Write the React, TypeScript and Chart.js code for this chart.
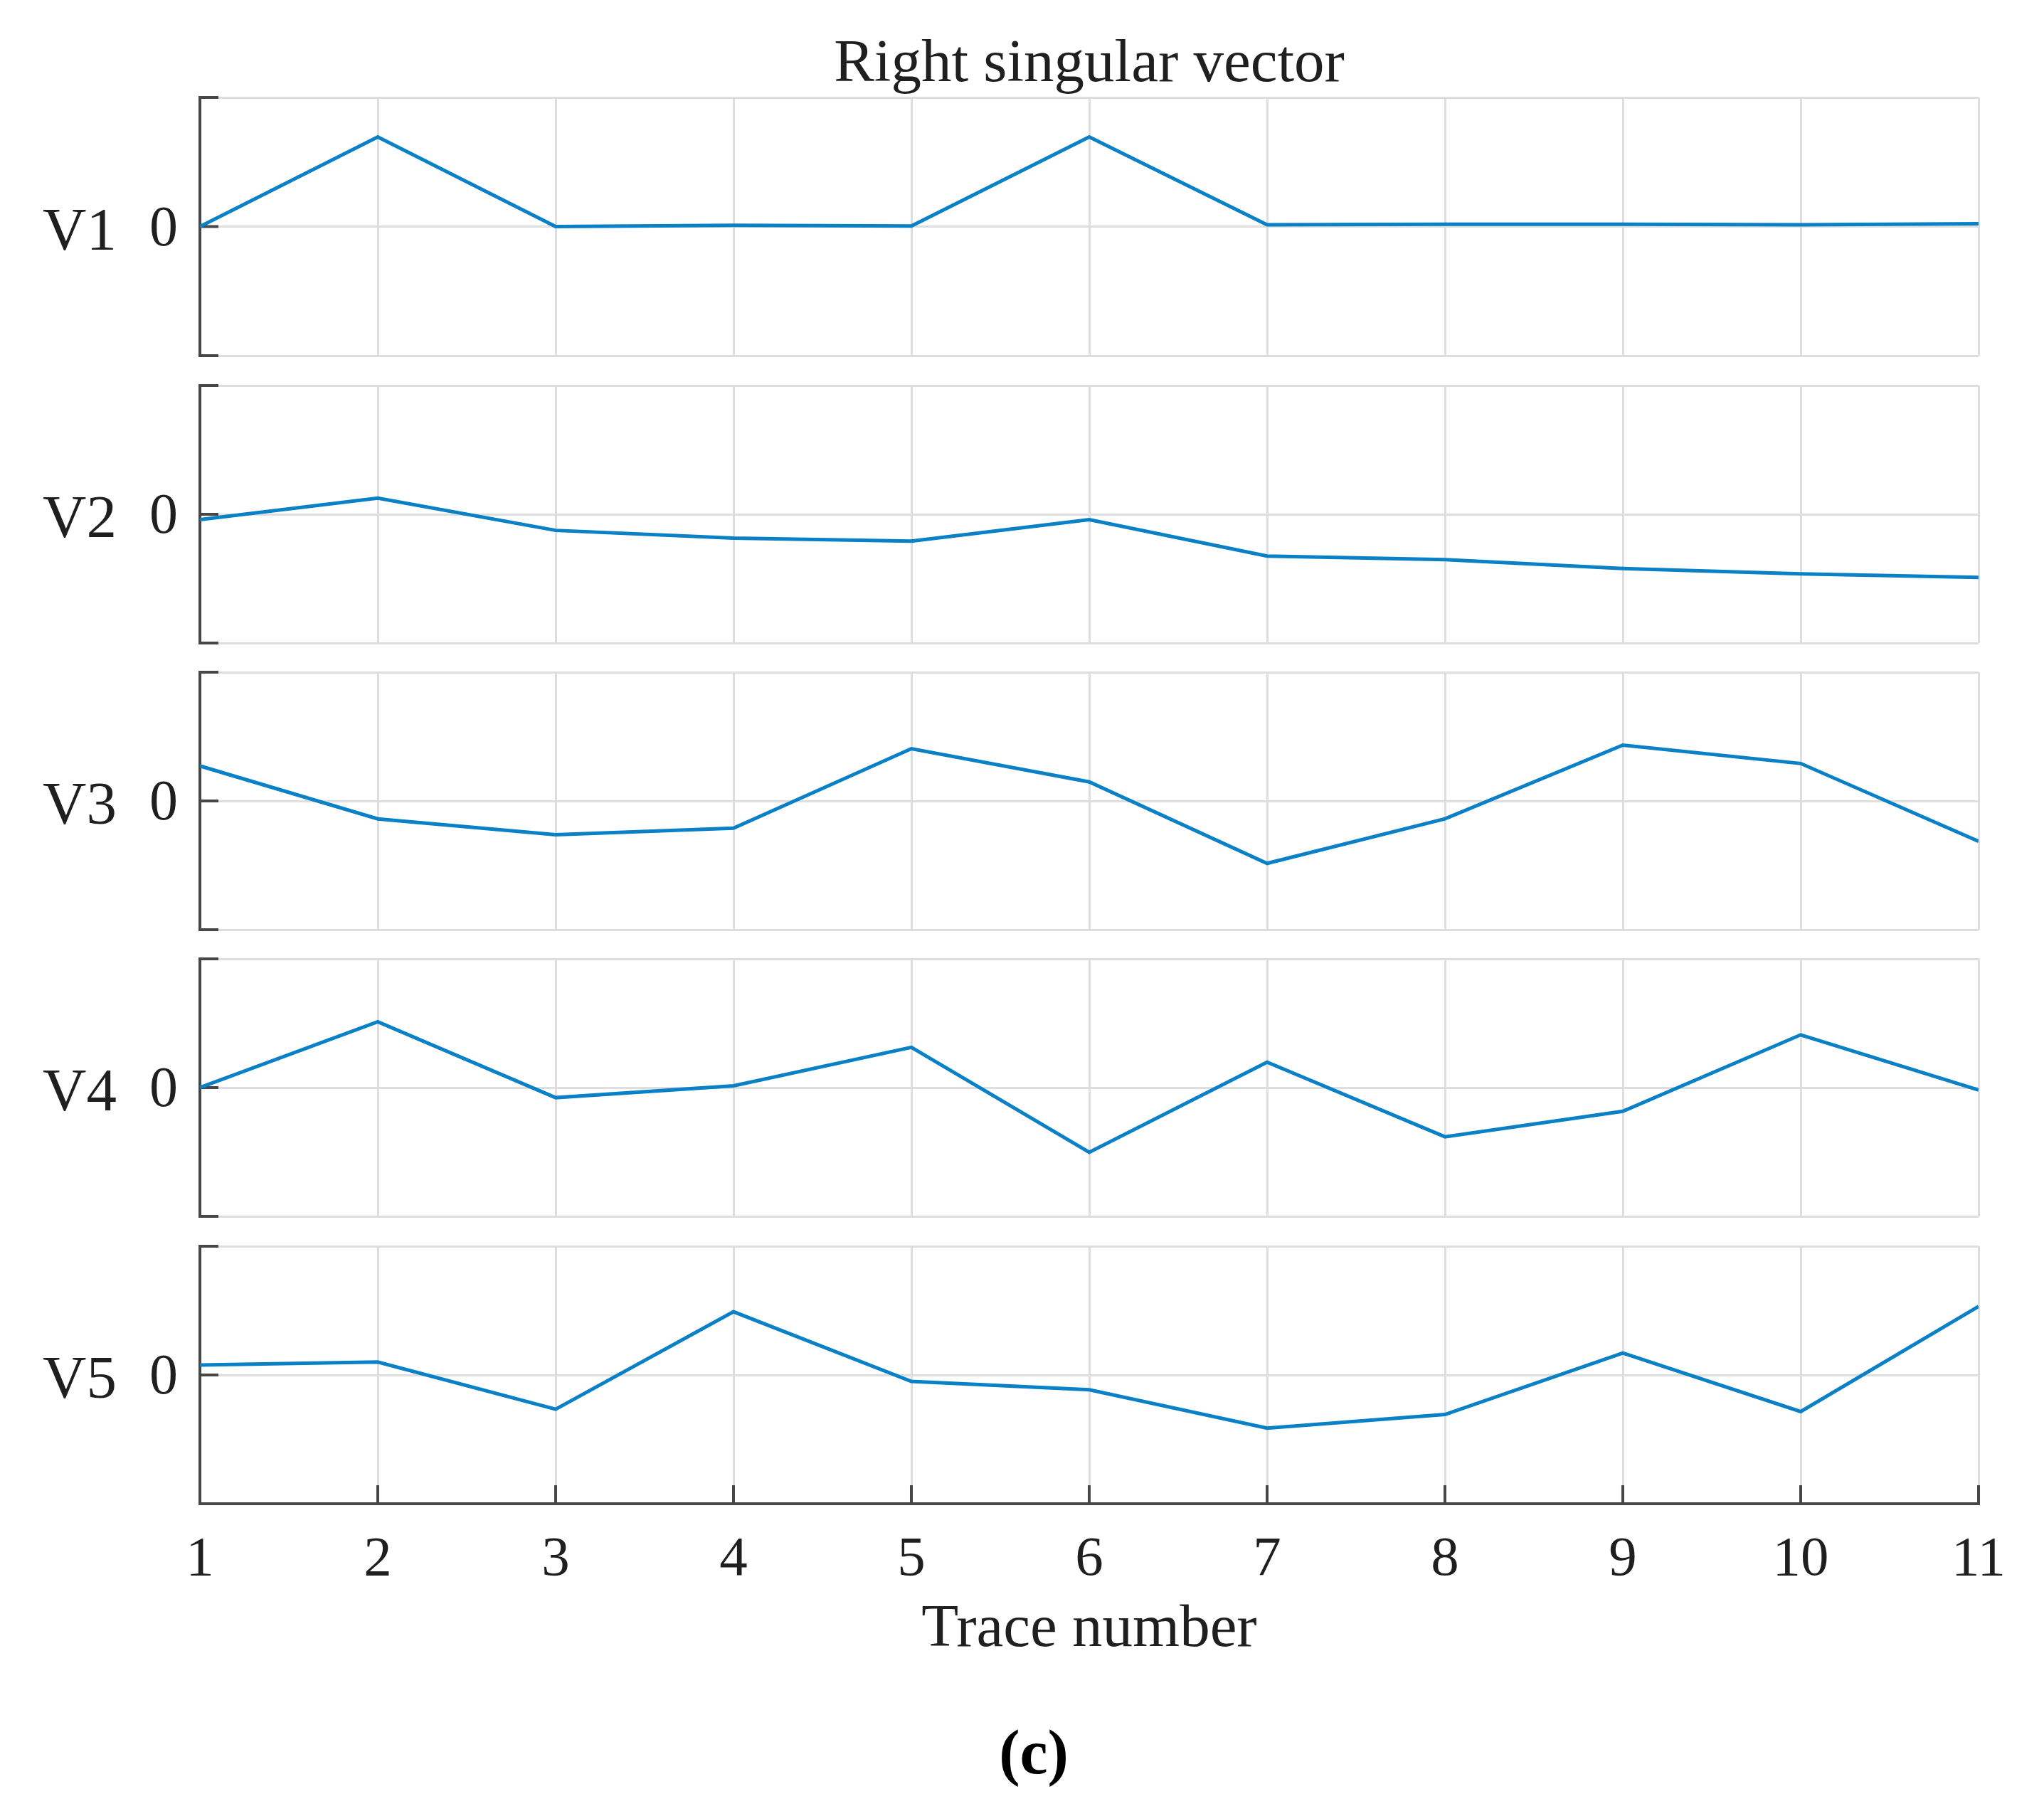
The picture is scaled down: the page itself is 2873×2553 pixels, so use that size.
import React, { useEffect, useRef } from 'react';
import { Chart, registerables } from 'chart.js';

Chart.register(...registerables);

// ---------------- data ----------------
const traceNumbers = [1, 2, 3, 4, 5, 6, 7, 8, 9, 10, 11];
const V1 = [0, 0.695, 0, 0.01, 0.005, 0.695, 0.014, 0.018, 0.018, 0.014, 0.023];
const V2 = [-0.042, 0.125, -0.125, -0.185, -0.208, -0.042, -0.324, -0.352, -0.421, -0.463, -0.49];
const V3 = [0.272, -0.139, -0.263, -0.212, 0.406, 0.148, -0.485, -0.139, 0.434, 0.291, -0.314];
const V4 = [0, 0.512, -0.078, 0.014, 0.313, -0.502, 0.198, -0.382, -0.184, 0.41, -0.018];
const V5 = [0.078, 0.101, -0.266, 0.491, -0.05, -0.115, -0.413, -0.307, 0.17, -0.284, 0.532];
const seriesNames = ['V1', 'V2', 'V3', 'V4', 'V5'];
const seriesValues = [V1, V2, V3, V4, V5];
const yTickValues = [-1, 0, 1];
const yTickLabel = '0';
const chartTitle = 'Right singular vector';
const xAxisTitle = 'Trace number';
const caption = '(c)';

// ---------------- layout / style ----------------
const W = 2873;
const H = 2553;
const PLOT_LEFT = 281;
const PLOT_RIGHT = 2781;
const PANEL_TOPS = [138, 542, 945, 1348, 1752];
const PANEL_H = 362;
const PAD = 110;
const X_AXIS_H = 229;
const FONT = '"Liberation Serif", "Times New Roman", serif';
const TEXT_COLOR = '#1f1f1f';
const AXIS_COLOR = '#474747';
const GRID_COLOR = '#dedede';
const LINE_COLOR = '#0a80c6';

const axesDecor = {
  id: 'axesDecor',
  beforeDatasetsDraw(chart: any, _args: any, opts: any) {
    const { ctx, chartArea: a, scales } = chart;
    const x = scales.x;
    const y = scales.y;
    ctx.save();
    ctx.strokeStyle = AXIS_COLOR;
    ctx.lineWidth = 4;
    ctx.beginPath();
    for (const v of yTickValues) {
      const py = y.getPixelForValue(v);
      ctx.moveTo(a.left, py);
      ctx.lineTo(a.left + 26, py);
    }
    if (opts.xTicks) {
      for (const v of traceNumbers) {
        const px = x.getPixelForValue(v);
        ctx.moveTo(px, a.bottom);
        ctx.lineTo(px, a.bottom - 26);
      }
    }
    ctx.stroke();
    ctx.fillStyle = TEXT_COLOR;
    ctx.font = `85px ${FONT}`;
    ctx.textAlign = 'right';
    ctx.textBaseline = 'alphabetic';
    ctx.fillText(opts.label, 164, y.getPixelForValue(0) + 32);
    ctx.restore();
  },
};

function buildConfig(i: number): any {
  const isFirst = i === 0;
  const isLast = i === seriesValues.length - 1;
  return {
    type: 'line',
    data: {
      datasets: [
        {
          data: traceNumbers.map((t, k) => ({ x: t, y: seriesValues[i][k] })),
          borderColor: LINE_COLOR,
          borderWidth: 5,
          pointRadius: 0,
          tension: 0,
          fill: false,
        },
      ],
    },
    options: {
      responsive: false,
      maintainAspectRatio: false,
      animation: false,
      events: [],
      layout: {
        padding: {
          left: 0,
          right: W - PLOT_RIGHT,
          top: isFirst ? 0 : PAD,
          bottom: isLast ? 0 : PAD,
        },
      },
      plugins: {
        legend: { display: false },
        tooltip: { enabled: false },
        title: {
          display: isFirst,
          text: chartTitle,
          fullSize: false,
          color: TEXT_COLOR,
          font: { family: FONT, size: 85, weight: 'normal', lineHeight: 1.06 },
          padding: { top: 47, bottom: 0 },
        },
        axesDecor: { label: seriesNames[i], xTicks: isLast },
      },
      scales: {
        x: {
          type: 'linear',
          min: 1,
          max: 11,
          grid: { color: GRID_COLOR, lineWidth: 3, drawTicks: false },
          border: { display: isLast, color: AXIS_COLOR, width: 4 },
          ticks: {
            display: isLast,
            stepSize: 1,
            autoSkip: false,
            maxRotation: 0,
            padding: 32,
            color: TEXT_COLOR,
            font: { family: FONT, size: 79, lineHeight: 1.2 },
          },
          title: {
            display: isLast,
            text: xAxisTitle,
            color: TEXT_COLOR,
            font: { family: FONT, size: 85, lineHeight: 1.2 },
            padding: { top: 0, bottom: 0 },
          },
          afterFit: (s: any) => {
            s.height = isLast ? X_AXIS_H : 0;
          },
        },
        y: {
          min: -1,
          max: 1,
          grid: { color: GRID_COLOR, lineWidth: 3, drawTicks: false },
          border: { display: true, color: AXIS_COLOR, width: 4 },
          ticks: {
            stepSize: 1,
            padding: 31,
            labelOffset: 5,
            color: TEXT_COLOR,
            font: { family: FONT, size: 80, lineHeight: 1.2 },
            callback: (v: any) => (Number(v) === 0 ? yTickLabel : ''),
          },
          afterFit: (s: any) => {
            s.width = PLOT_LEFT;
          },
        },
      },
    },
    plugins: [axesDecor],
  };
}

function canvasBox(i: number) {
  const isFirst = i === 0;
  const isLast = i === seriesValues.length - 1;
  const top = isFirst ? 0 : PANEL_TOPS[i] - PAD;
  const bottom = isLast ? PANEL_TOPS[i] + PANEL_H + X_AXIS_H : PANEL_TOPS[i] + PANEL_H + PAD;
  return { top, height: bottom - top };
}

export default function App() {
  const refs = useRef<(HTMLCanvasElement | null)[]>([]);

  useEffect(() => {
    document.body.style.margin = '0';
    const charts = seriesValues.map((_, i) => new Chart(refs.current[i] as HTMLCanvasElement, buildConfig(i)));
    return () => {
      charts.forEach((c) => c.destroy());
    };
  }, []);

  return (
    <div style={{ position: 'relative', width: W, height: H, background: '#ffffff', overflow: 'hidden' }}>
      {seriesValues.map((_, i) => {
        const b = canvasBox(i);
        return (
          <canvas
            key={i}
            ref={(el) => {
              refs.current[i] = el;
            }}
            width={W}
            height={b.height}
            style={{ position: 'absolute', left: 0, top: b.top, width: W, height: b.height, display: 'block' }}
          />
        );
      })}
      <div
        style={{
          position: 'absolute',
          left: 1253,
          top: 2420,
          width: 400,
          textAlign: 'center',
          fontFamily: FONT,
          fontWeight: 'bold',
          fontSize: 88,
          lineHeight: '88px',
          color: '#000000',
        }}
      >
        {caption}
      </div>
    </div>
  );
}
